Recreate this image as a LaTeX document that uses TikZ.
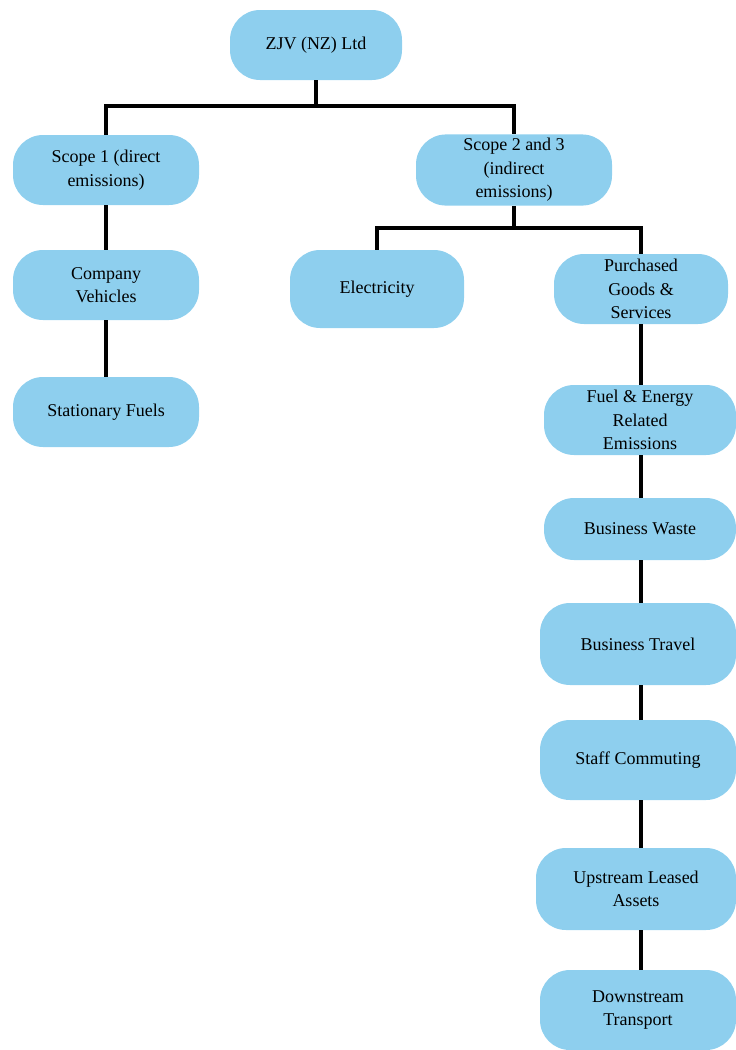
\documentclass[tikz,border=0pt]{standalone}
\usepackage{fontspec}
\setmainfont{Liberation Serif}
\usetikzlibrary{positioning}

\definecolor{boxblue}{HTML}{8ECFEE}

\tikzset{
  box/.style={fill=boxblue, draw=none, rounded corners=15pt, align=center,
    font=\fontsize{9}{11.7}\selectfont, inner sep=2pt},
  link/.style={draw=black, line width=2pt}
}

\begin{document}
\begin{tikzpicture}[x=0.5pt, y=-0.5pt]
  \useasboundingbox (0,0) rectangle (735,1050);

  % top of the tree
  \node[box, minimum width=86pt, minimum height=35pt] (zjv) at (316,45) {ZJV (NZ) Ltd};
  \node[box, minimum width=93pt, minimum height=35pt] (scope1) at (106,170) {Scope 1 (direct\\emissions)};
  \node[box, minimum width=98pt, minimum height=35pt] (scope23) at (514,170) {Scope 2 and 3\\(indirect\\emissions)};

  % scope 1 branch
  \node[box, minimum width=93pt, minimum height=35pt] (vehicles) at (106,285) {Company\\Vehicles};
  \node[box, minimum width=93pt, minimum height=35pt] (fuels) at (106,412) {Stationary Fuels};

  % scope 2 and 3 branch
  \node[box, minimum width=87pt, minimum height=39pt] (electricity) at (377,289) {Electricity};
  \node[box, minimum width=87pt, minimum height=35pt] (goods) at (641,289) {Purchased\\Goods \&\\Services};
  \node[box, minimum width=96pt, minimum height=35pt] (energy) at (640,420) {Fuel \& Energy\\Related\\Emissions};
  \node[box, minimum width=96pt, minimum height=31pt] (waste) at (640,529) {Business Waste};
  \node[box, minimum width=98pt, minimum height=41pt] (travel) at (638,644) {Business Travel};
  \node[box, minimum width=98pt, minimum height=40pt] (commute) at (638,760) {Staff Commuting};
  \node[box, minimum width=100pt, minimum height=41pt] (leased) at (636,889) {Upstream Leased\\Assets};
  \node[box, minimum width=98pt, minimum height=40pt] (transport) at (638,1010) {Downstream\\Transport};

  \coordinate (split1) at (316,106);
  \coordinate (split2) at (514,228);
  \coordinate (spine) at (641,0);

  % connectors
  \draw[link] (zjv.south) -- (split1);
  \draw[link] (split1) -| (scope1.north);
  \draw[link] (split1) -| (scope23.north);
  \draw[link] (scope1) -- (vehicles);
  \draw[link] (vehicles) -- (fuels);
  \draw[link] (scope23.south) -- (split2);
  \draw[link] (split2) -| (electricity.north);
  \draw[link] (split2) -| (goods.north);
  \draw[link] (goods.south) -- (spine |- energy.north);
  \draw[link] (spine |- energy.south) -- (spine |- waste.north);
  \draw[link] (spine |- waste.south) -- (spine |- travel.north);
  \draw[link] (spine |- travel.south) -- (spine |- commute.north);
  \draw[link] (spine |- commute.south) -- (spine |- leased.north);
  \draw[link] (spine |- leased.south) -- (spine |- transport.north);
\end{tikzpicture}
\end{document}
